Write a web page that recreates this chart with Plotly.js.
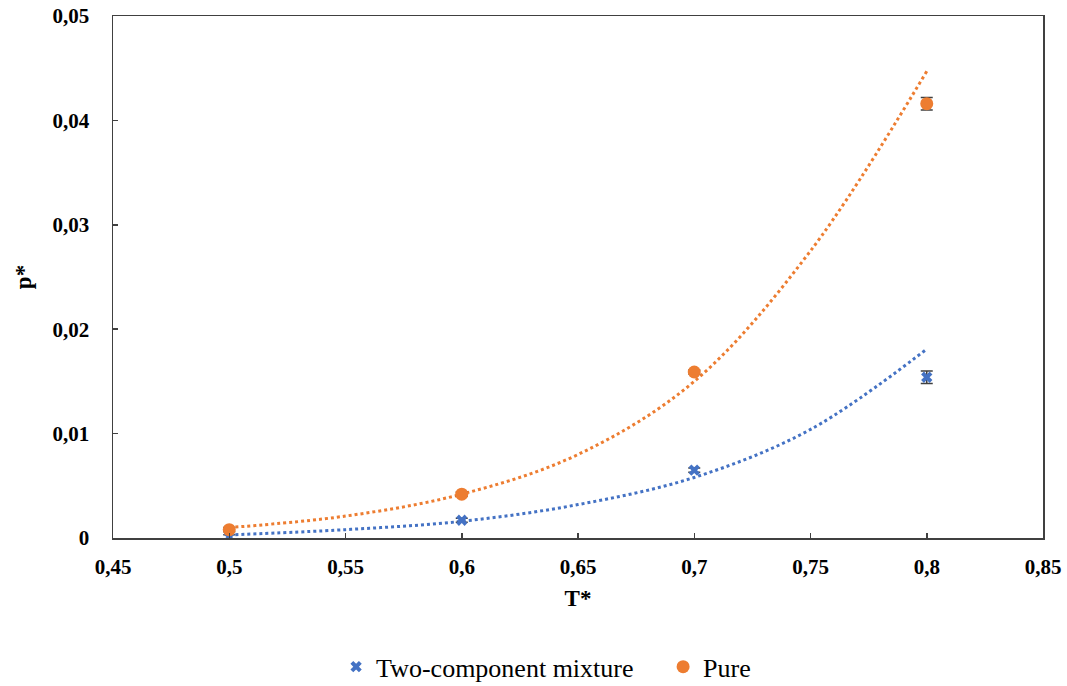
<!DOCTYPE html>
<html>
<head>
<meta charset="utf-8">
<script src="https://cdn.plot.ly/plotly-3.0.1.min.js"></script>
<style>html,body{margin:0;padding:0;background:#fff;}#chart{width:1067px;height:686px;}</style>
</head>
<body>
<div id="chart"></div>
<script>
// Measured points
const temps = [0.5, 0.6, 0.7, 0.8];
const mixtureP = [0.0001, 0.0017, 0.0065, 0.0154];
const mixtureErr = [0.0002, 0.0002, 0.0002, 0.0006];
const pureP = [0.0008, 0.0042, 0.0159, 0.0416];
const pureErr = [0.0002, 0.0002, 0.0002, 0.0006];

// Trendline readings (from picture)
const trendT = [0.5, 0.55, 0.6, 0.65, 0.7, 0.75, 0.8];
const mixtureTrend = [0.0003, 0.0008, 0.0016, 0.0032, 0.0058, 0.0104, 0.0181];
const pureTrend = [0.0010, 0.0021, 0.0042, 0.0080, 0.0150, 0.0275, 0.0447];

const blue = '#4472C4';
const orange = '#ED7D31';
const serif = 'Liberation Serif, Times New Roman, serif';

const traces = [
  {x: trendT, y: pureTrend, mode: 'lines', line: {color: orange, width: 3, dash: 'dot', shape: 'spline'}, showlegend: false, hoverinfo: 'skip'},
  {x: trendT, y: mixtureTrend, mode: 'lines', line: {color: blue, width: 3, dash: 'dot', shape: 'spline'}, showlegend: false, hoverinfo: 'skip'},
  {x: temps, y: mixtureP, name: 'Two-component mixture', mode: 'markers',
   marker: {symbol: 'x', size: 10, color: blue},
   error_y: {type: 'data', array: mixtureErr, visible: true, color: '#404040', thickness: 1.5, width: 6}},
  {x: temps, y: pureP, name: 'Pure', mode: 'markers',
   marker: {symbol: 'circle', size: 13, color: orange},
   error_y: {type: 'data', array: pureErr, visible: true, color: '#404040', thickness: 1.5, width: 6}}
];

const layout = {
  width: 1067, height: 686,
  margin: {l: 113, r: 24, t: 16, b: 148, autoexpand: false},
  paper_bgcolor: '#fff', plot_bgcolor: '#fff',
  separators: ',.',
  font: {family: serif, color: '#000'},
  xaxis: {
    range: [0.45, 0.85], dtick: 0.05, tick0: 0.45,
    showgrid: false, zeroline: false,
    showline: true, mirror: true, linecolor: '#404040', linewidth: 1.5,
    ticks: 'inside', ticklen: 5, tickcolor: '#404040', tickwidth: 1.5,
    tickfont: {family: serif, size: 21, color: '#000', weight: 'bold'},
    ticklabelstandoff: 9,
    title: {text: '<b>T*</b>', font: {family: serif, size: 23, color: '#000'}, standoff: 12}
  },
  yaxis: {
    range: [0, 0.05], dtick: 0.01,
    showgrid: false, zeroline: false,
    showline: true, mirror: true, linecolor: '#404040', linewidth: 1.5,
    ticks: 'inside', ticklen: 5, tickcolor: '#404040', tickwidth: 1.5,
    tickfont: {family: serif, size: 21, color: '#000', weight: 'bold'},
    ticklabelstandoff: 18,
    title: {text: '<b>p*</b>', font: {family: serif, size: 23, color: '#000'}, standoff: 14}
  },
  legend: {
    orientation: 'h', x: 0.315, xref: 'container', xanchor: 'left',
    y: 0.028, yref: 'container', yanchor: 'middle',
    entrywidth: 282, entrywidthmode: 'pixels',
    font: {family: serif, size: 26, color: '#000'}
  },
  showlegend: true
};

Plotly.newPlot('chart', traces, layout, {displayModeBar: false, staticPlot: true});
</script>
</body>
</html>
